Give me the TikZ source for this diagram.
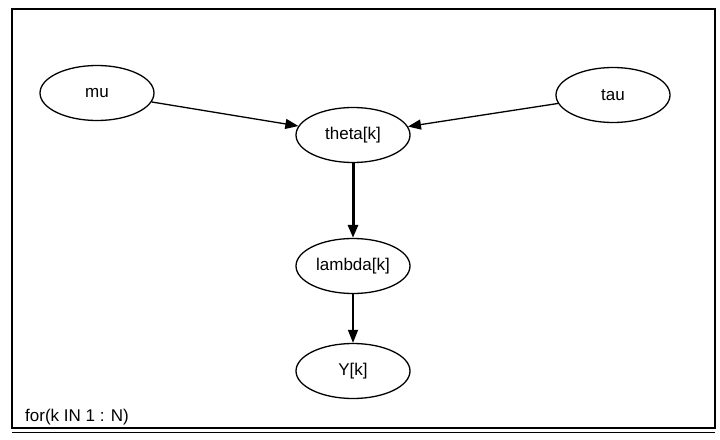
\documentclass[tikz,border=0pt]{standalone}
\usepackage{fontspec}
\setmainfont{Liberation Sans}
\usetikzlibrary{shapes.geometric,arrows.meta}
\begin{document}
\begin{tikzpicture}[x=1pt,y=-1pt,
  var/.style={draw,ellipse,line width=1.3pt,minimum width=114pt,minimum height=55pt,inner sep=0pt,font=\fontsize{17}{20}\selectfont},
  link/.style={line width=1.3pt,-{Triangle[length=13pt,width=10pt]}},
  thicklink/.style={line width=3pt,-{Triangle[length=13pt,width=10pt]}}]
\useasboundingbox (0,0) rectangle (720,439);
\draw[line width=1.3pt] (12,9) rectangle (715,428);
\draw[line width=1pt] (12,432) -- (715,432);
\node[var] (mu) at (97,93) {mu};
\node[var] (tau) at (613,95) {tau};
\node[var] (theta) at (353,135) {theta[k]};
\node[var] (lambda) at (353,266) {lambda[k]};
\node[var] (Y) at (353,371) {Y[k]};
\node[anchor=base west,inner sep=0pt,font=\fontsize{17}{20}\selectfont] (lbl) at (25,421) {for(k IN 1 : N)};
\draw[link] (mu) -- (theta);
\draw[link] (tau) -- (theta);
\draw[thicklink] (theta) -- (lambda);
\draw[link] (lambda) -- (Y);
\end{tikzpicture}
\end{document}
